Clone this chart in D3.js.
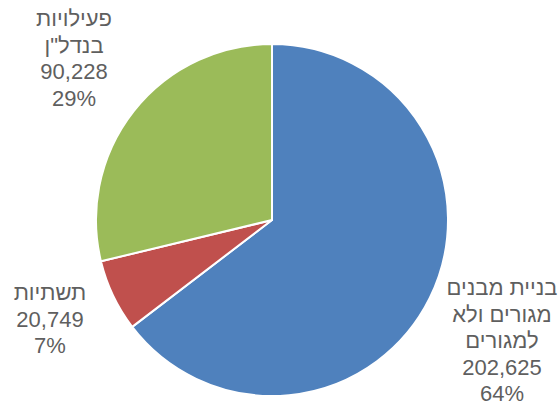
<!DOCTYPE html>
<html>
<head>
<meta charset="utf-8">
<script src="https://cdn.jsdelivr.net/npm/d3@7"></script>
<style>
  html, body { margin: 0; padding: 0; background: #ffffff; }
  svg { display: block; }
  text { font-family: "Liberation Sans", Arial, sans-serif; fill: #5f5f5f; }
</style>
</head>
<body>
<svg id="chart" width="558" height="408"></svg>
<script>
// Segment names (each split into lines), values and shown percentages
const categories = [
  ["בניית מבנים", "מגורים ולא", "למגורים"],
  ["תשתיות"],
  ["פעילויות", "בנדל\"ן"]
];
const values = [202625, 20749, 90228];
const percentLabels = ["64%", "7%", "29%"];
const colors = ["#4F81BD", "#C0504D", "#9BBB59"];

const width = 558, height = 408;
const cx = 272, cy = 220, radius = 176;

// Label block placement: centre x and first baseline for each segment
const labelPos = [
  { x: 502, y: 295 },
  { x: 50, y: 300 },
  { x: 74, y: 26 }
];
const lineHeight = 26.5;
const fontSize = 22;

const svg = d3.select("#chart");
const g = svg.append("g").attr("transform", `translate(${cx},${cy})`);

const pie = d3.pie().sort(null).value(d => d)(values);
const arc = d3.arc().innerRadius(0).outerRadius(radius);

g.selectAll("path.slice")
  .data(pie)
  .join("path")
  .attr("class", "slice")
  .attr("d", arc)
  .attr("fill", (d, i) => colors[i])
  .attr("stroke", "#ffffff")
  .attr("stroke-width", 2)
  .attr("stroke-linejoin", "round");

const fmt = d3.format(",");

const labels = svg.selectAll("text.lbl")
  .data(pie)
  .join("text")
  .attr("class", "lbl")
  .attr("text-anchor", "middle")
  .attr("font-size", fontSize);

labels.each(function(d, i) {
  const lines = categories[i].concat([fmt(values[i]), percentLabels[i]]);
  d3.select(this).selectAll("tspan")
    .data(lines)
    .join("tspan")
    .attr("x", labelPos[i].x)
    .attr("y", (l, k) => labelPos[i].y + k * lineHeight)
    .text(l => l);
});
</script>
</body>
</html>
